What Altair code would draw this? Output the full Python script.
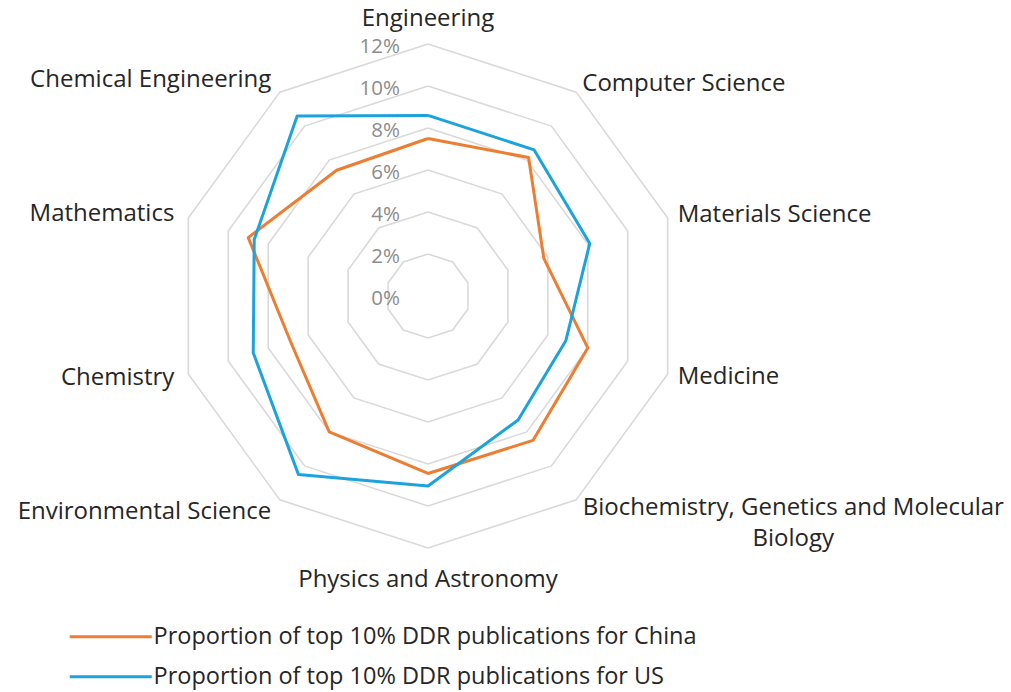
import altair as alt
import pandas as pd

# ---- data ----
categories = [
    "Engineering", "Computer Science", "Materials Science", "Medicine",
    "Biochemistry, Genetics and Molecular\nBiology", "Physics and Astronomy",
    "Environmental Science", "Chemistry", "Mathematics", "Chemical Engineering",
]
china = [7.5, 8.15, 5.8, 8.0, 8.5, 8.45, 8.0, 6.9, 9.0, 7.4]
us = [8.6, 8.6, 8.1, 6.9, 7.3, 9.05, 10.5, 8.75, 8.7, 10.6]
series_names = [
    "Proportion of top 10% DDR publications for China",
    "Proportion of top 10% DDR publications for US",
]
series_colors = ["#ED7D31", "#1CA3DE"]
ring_values = [2, 4, 6, 8, 10, 12]
tick_values = [0, 2, 4, 6, 8, 10, 12]
tick_labels = ["0%", "2%", "4%", "6%", "8%", "10%", "12%"]

N = len(categories)
FONT = "Open Sans"

# ---- tables built from the arrays ----
series_rows = []
for name, vals in zip(series_names, [china, us]):
    for i in range(N + 1):
        series_rows.append({"series": name, "k": i % N, "order": i, "value": vals[i % N]})
series_df = pd.DataFrame(series_rows)

ring_rows = []
for r in ring_values:
    for i in range(N + 1):
        ring_rows.append({"ring": r, "k": i % N, "order": i, "value": r})
ring_df = pd.DataFrame(ring_rows)

tick_df = pd.DataFrame({"value": tick_values, "label": tick_labels, "k": [0] * len(tick_values)})
cat_df = pd.DataFrame({"category": categories, "k": list(range(N))})

# ---- scales (center of radar in the middle-left area) ----
unit = 21.0
xs = alt.Scale(domain=[-428 / unit, (1011 - 428) / unit], nice=False, zero=False)
ys = alt.Scale(domain=[-(692 - 296) / unit, 296 / unit], nice=False, zero=False)

def polar(chart, rfield="value"):
    return chart.transform_calculate(
        px=f"datum.{rfield} * sin(datum.k * 2 * PI / {N})",
        py=f"datum.{rfield} * cos(datum.k * 2 * PI / {N})",
    )

X = alt.X("px:Q", scale=xs, axis=None)
Y = alt.Y("py:Q", scale=ys, axis=None)

rings = polar(alt.Chart(ring_df)).mark_line(
    stroke="#d9d9d9", strokeWidth=1.6
).encode(x=X, y=Y, detail="ring:N", order="order:Q")

ticks = polar(alt.Chart(tick_df)).mark_text(
    align="right", baseline="middle", dx=-28, dy=3, font=FONT, fontSize=20.5, color="#8c8c8c"
).encode(x=X, y=Y, text="label:N")

lines = polar(alt.Chart(series_df)).mark_line(
    strokeWidth=3, strokeJoin="round"
).encode(
    x=X, y=Y, order="order:Q",
    color=alt.Color(
        "series:N",
        scale=alt.Scale(domain=series_names, range=series_colors),
        legend=alt.Legend(
            title=None, orient="none", legendX=99, legendY=625, direction="vertical",
            symbolType="M-4.1,0H4.1", symbolSize=400, symbolStrokeWidth=3,
            labelFont=FONT, labelFontSize=23.5, labelColor="#262626",
            labelOffset=31, rowPadding=15, labelLimit=0, padding=0,
        ),
    ),
)

def cat_layer(filter_expr, radius, align, dx=0):
    return polar(
        alt.Chart(cat_df).transform_filter(filter_expr).transform_calculate(r=str(radius)),
        rfield="r",
    ).mark_text(
        align=align, baseline="middle", dx=dx, font=FONT, fontSize=24,
        color="#262626", lineBreak="\n", lineHeight=31,
    ).encode(x=X, y=Y, text="category:N")

labels_t = cat_layer("datum.k == 0", 13.2, "center")
labels_b = cat_layer("datum.k == 5", 13.5, "center")
labels_r = cat_layer("datum.k >= 1 && datum.k <= 3", 12.5, "left")
labels_bio = cat_layer("datum.k == 4", 12.5, "center", dx=211)
labels_l = cat_layer("datum.k >= 6", 12.7, "right")

chart = alt.layer(
    rings, ticks, lines, labels_t, labels_b, labels_r, labels_bio, labels_l
).properties(
    width=1011, height=692, padding=0, autosize=alt.AutoSizeParams(type="none"),
    background="white",
).configure_view(stroke=None)

chart.save("out.html", embed_options={"renderer": "svg", "actions": False})
